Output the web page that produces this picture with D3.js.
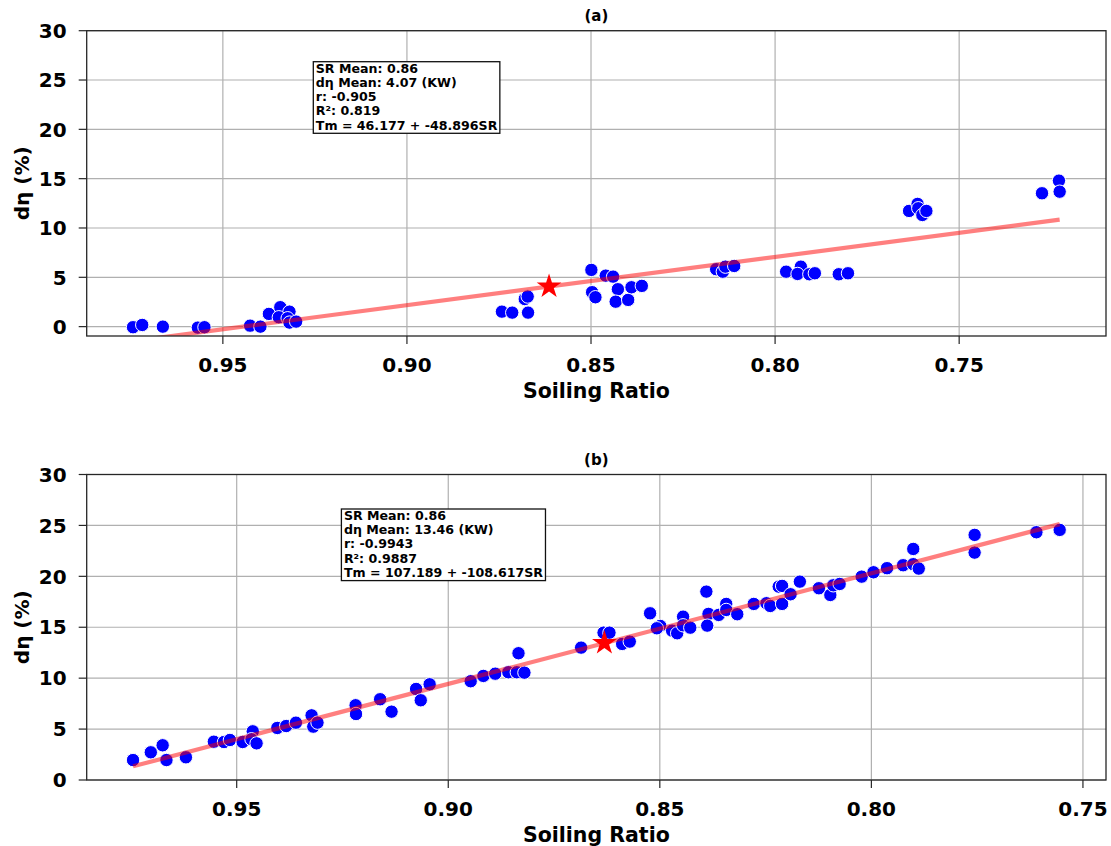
<!DOCTYPE html>
<html>
<head>
<meta charset="utf-8">
<script src="https://cdn.jsdelivr.net/npm/d3@7"></script>
<style>
  body { margin: 0; background: #fff; }
  svg text { font-family: "DejaVu Sans", sans-serif; font-weight: bold; fill: #000; }
</style>
</head>
<body>
<svg id="fig" width="1111" height="846"></svg>
<script>
// Panel (a): soiling ratio vs efficiency drop
const srA = [0.9744, 0.9719, 0.9663, 0.9568, 0.9550, 0.9426, 0.9398, 0.9375, 0.9344, 0.9319,
             0.9348, 0.9324, 0.9319, 0.9301, 0.8742, 0.8714, 0.8671, 0.8680, 0.8672, 0.8499,
             0.8497, 0.8488, 0.8460, 0.8440, 0.8427, 0.8433, 0.8399, 0.8390, 0.8362, 0.8160,
             0.8142, 0.8135, 0.8111, 0.7970, 0.7930, 0.7939, 0.7907, 0.7892, 0.7827, 0.7802,
             0.7636, 0.7613, 0.7611, 0.7600, 0.7589, 0.7275, 0.7229, 0.7227];
const dnA = [-0.06, 0.17, 0.00, -0.10, -0.06, 0.10, 0.00, 1.29, 1.97, 1.52,
             0.95, 0.85, 0.41, 0.51, 1.52, 1.42, 1.42, 2.80, 3.05, 5.75,
             3.49, 2.98, 5.17, 5.07, 3.79, 2.53, 2.71, 3.99, 4.13, 5.82,
             5.57, 6.08, 6.15, 5.57, 6.08, 5.34, 5.31, 5.41, 5.31, 5.41,
             11.73, 12.44, 12.00, 11.32, 11.73, 13.52, 14.80, 13.68];

// Panel (b)
const srB = [0.9745, 0.9703, 0.9675, 0.9666, 0.9620, 0.9554, 0.9530, 0.9516, 0.9486, 0.9462,
             0.9465, 0.9453, 0.9404, 0.9383, 0.9360, 0.9323, 0.9319, 0.9309, 0.9219, 0.9218,
             0.9161, 0.9134, 0.9076, 0.9065, 0.9044, 0.8947, 0.8917, 0.8889, 0.8858, 0.8838,
             0.8820, 0.8834, 0.8686, 0.8633, 0.8619, 0.8589, 0.8571, 0.8523, 0.8499, 0.8507,
             0.8471, 0.8459, 0.8445, 0.8445, 0.8428, 0.8390, 0.8385, 0.8388, 0.8361, 0.8343,
             0.8343, 0.8317, 0.8278, 0.8248, 0.8239, 0.8219, 0.8211, 0.8211, 0.8191, 0.8169,
             0.8124, 0.8097, 0.8090, 0.8075, 0.8023, 0.7995, 0.7963, 0.7925, 0.7901, 0.7901,
             0.7888, 0.7756, 0.7756, 0.7610, 0.7555];
const dnB = [1.96, 2.72, 3.41, 1.96, 2.23, 3.76, 3.73, 3.93, 3.73, 4.78,
             4.00, 3.60, 5.11, 5.30, 5.63, 6.35, 5.24, 5.63, 7.34, 6.48,
             7.93, 6.71, 8.94, 7.83, 9.40, 9.70, 10.22, 10.44, 10.58, 10.58,
             10.54, 12.45, 13.00, 14.47, 14.47, 13.36, 13.59, 16.37, 15.13, 14.90,
             14.67, 14.41, 16.04, 15.19, 14.96, 18.50, 16.31, 15.16, 16.21, 17.29,
             16.70, 16.28, 17.29, 17.36, 17.09, 18.99, 19.06, 17.29, 18.24, 19.48,
             18.83, 18.17, 19.12, 19.25, 19.97, 20.40, 20.80, 21.09, 22.69, 21.19,
             20.76, 24.07, 22.33, 24.33, 24.56];

// Summary statistics shown in each panel
const panelTitles = ["(a)", "(b)"];
const srMeans = [0.8614, 0.8631];
const dnMeans = [4.07, 13.46];
const rValues = ["-0.905", "-0.9943"];
const r2Values = ["0.819", "0.9887"];
const intercepts = [46.177, 107.189];
const slopes = [-48.896, -108.617];

const xTicks = [0.95, 0.90, 0.85, 0.80, 0.75];
const yTicks = [0, 5, 10, 15, 20, 25, 30];
const xLabel = "Soiling Ratio";
const yLabel = "dη (%)";

const svg = d3.select("#fig");

const panels = [
  { sr: srA, dn: dnA, top: 30.7, bottom: 336, yMin: -0.95, boxX: 313.3, boxY: 61.7 },
  { sr: srB, dn: dnB, top: 474.5, bottom: 780, yMin: 0, boxX: 341.4, boxY: 509 }
];
const left = 86.7, right = 1106;

panels.forEach((p, i) => {
  const g = svg.append("g");
  const ext = d3.extent(p.sr);
  const pad = (ext[1] - ext[0]) * 0.05;
  // Reversed x axis: high soiling ratio on the left
  const x = d3.scaleLinear().domain([ext[1] + pad, ext[0] - pad]).range([left, right]);
  const y = d3.scaleLinear().domain([p.yMin, 30]).range([p.bottom, p.top]);

  const clipId = "clip" + i;
  svg.append("clipPath").attr("id", clipId)
    .append("rect").attr("x", left).attr("y", p.top)
    .attr("width", right - left).attr("height", p.bottom - p.top);

  // grid
  g.append("g").selectAll("line").data(xTicks).join("line")
    .attr("x1", d => x(d)).attr("x2", d => x(d))
    .attr("y1", p.top).attr("y2", p.bottom)
    .attr("stroke", "#b0b0b0").attr("stroke-width", 1.2);
  g.append("g").selectAll("line").data(yTicks).join("line")
    .attr("x1", left).attr("x2", right)
    .attr("y1", d => y(d)).attr("y2", d => y(d))
    .attr("stroke", "#b0b0b0").attr("stroke-width", 1.2);

  const plot = g.append("g").attr("clip-path", `url(#${clipId})`);

  // scatter points
  const pts = p.sr.map((s, k) => ({ s, v: p.dn[k] }));
  plot.selectAll("circle").data(pts).join("circle")
    .attr("cx", d => x(d.s)).attr("cy", d => y(d.v)).attr("r", 6.7)
    .attr("fill", "#0000ff").attr("stroke", "#fff").attr("stroke-width", 1);

  // regression line Tm = a + b·SR over the data range
  const fit = s => intercepts[i] + slopes[i] * s;
  plot.append("path")
    .datum([ext[1], ext[0]])
    .attr("d", d3.line().x(s => x(s)).y(s => y(fit(s))))
    .attr("stroke", "#ff0000").attr("stroke-opacity", 0.5)
    .attr("stroke-width", 4.2).attr("fill", "none");

  // mean marker
  plot.append("path")
    .attr("d", d3.symbol(d3.symbolStar, 190)())
    .attr("transform", `translate(${x(srMeans[i])},${y(dnMeans[i])})`)
    .attr("fill", "#ff0000");

  // frame
  g.append("rect").attr("x", left).attr("y", p.top)
    .attr("width", right - left).attr("height", p.bottom - p.top)
    .attr("fill", "none").attr("stroke", "#262626").attr("stroke-width", 1.3);

  // x ticks
  const xt = g.append("g").selectAll("g").data(xTicks).join("g");
  xt.append("line").attr("x1", d => x(d)).attr("x2", d => x(d))
    .attr("y1", p.bottom).attr("y2", p.bottom + 8)
    .attr("stroke", "#262626").attr("stroke-width", 1.2);
  xt.append("text").attr("x", d => x(d)).attr("y", p.bottom + 36)
    .attr("text-anchor", "middle").style("font-size", "20px")
    .text(d => d3.format(".2f")(d));

  // y ticks
  const yt = g.append("g").selectAll("g").data(yTicks).join("g");
  yt.append("line").attr("x1", left - 8).attr("x2", left)
    .attr("y1", d => y(d)).attr("y2", d => y(d))
    .attr("stroke", "#262626").attr("stroke-width", 1.2);
  yt.append("text").attr("x", left - 20).attr("y", d => y(d)).attr("dy", "0.36em")
    .attr("text-anchor", "end").style("font-size", "20px")
    .text(d => d);

  // titles and axis labels
  const cx = (left + right) / 2;
  g.append("text").attr("x", cx).attr("y", p.top - 10)
    .attr("text-anchor", "middle").style("font-size", "15px").text(panelTitles[i]);
  g.append("text").attr("x", cx).attr("y", p.bottom + 62)
    .attr("text-anchor", "middle").style("font-size", "20.5px").text(xLabel);
  g.append("text")
    .attr("transform", `translate(29,${(p.top + p.bottom) / 2}) rotate(-90)`)
    .attr("text-anchor", "middle").style("font-size", "20px").text(yLabel);

  // statistics box
  const lines = [
    `SR Mean: ${srMeans[i].toFixed(2)}`,
    `dη Mean: ${dnMeans[i].toFixed(2)} (KW)`,
    `r: ${rValues[i]}`,
    `R²: ${r2Values[i]}`,
    `Tm = ${intercepts[i].toFixed(3)} + ${slopes[i].toFixed(3)}SR`
  ];
  const box = g.append("g");
  const rect = box.append("rect").attr("fill", "#fff")
    .attr("stroke", "#111").attr("stroke-width", 1.3);
  const txt = box.selectAll("text").data(lines).join("text")
    .attr("x", p.boxX + 2.5).attr("y", (d, k) => p.boxY + 11 + k * 14.2)
    .style("font-size", "12.6px").text(d => d);
  let w = 0;
  txt.each(function () { w = Math.max(w, this.getComputedTextLength()); });
  rect.attr("x", p.boxX).attr("y", p.boxY)
    .attr("width", w + 5).attr("height", 71.6);
});
</script>
</body>
</html>
